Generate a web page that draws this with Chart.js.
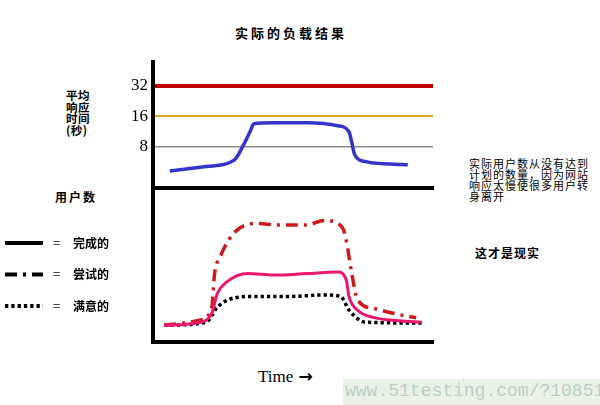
<!DOCTYPE html>
<html>
<head>
<meta charset="utf-8">
<script src="https://cdn.jsdelivr.net/npm/chart.js@4/dist/chart.umd.min.js"></script>
<style>
  body { margin: 0; width: 600px; height: 405px; position: relative; overflow: hidden; background: #fff;
         font-family: "Noto Sans CJK SC", sans-serif; color: #000; }
  .txt { position: absolute; white-space: nowrap; }
  canvas { position: absolute; left: 0; }
  #title { left: 235px; top: 26px; font-size: 13px; font-weight: bold; letter-spacing: 3px; line-height: 14px; }
  #ytitle { left: 66px; top: 90px; font-size: 11.5px; font-weight: bold; letter-spacing: 0.5px; line-height: 11.5px; }
  #users { left: 55px; top: 190px; font-size: 12px; font-weight: bold; letter-spacing: 2px; line-height: 14px; }
  #note { left: 469px; top: 158px; font-size: 11px; letter-spacing: 1px; line-height: 11px; }
  #real { left: 475px; top: 246px; font-size: 12px; font-weight: bold; letter-spacing: 1px; line-height: 14px; }
  #time { left: 258px; top: 366px; font-family: "Liberation Serif", serif; font-size: 17px; line-height: 20px; }
  #time span { font-family: "DejaVu Sans", sans-serif; font-weight: bold; font-size: 17px; margin-left: 1px; }
  #mark { left: 343px; top: 379px; width: 257px; height: 26px; background: #eaf2e8; color: #b9d0c2;
          font-family: "Liberation Mono", monospace; font-size: 18px; line-height: 24px; padding-left: 2px; }
</style>
</head>
<body>
<div class="txt" id="title">实际的负载结果</div>
<div class="txt" id="ytitle">平均<br>响应<br>时间<br>(秒)</div>
<div class="txt" id="users">用户数</div>
<div class="txt" id="note">实际用户数从没有达到<br>计划的数量，因为网站<br>响应太慢使很多用户转<br>身离开</div>
<div class="txt" id="real">这才是现实</div>
<div class="txt" id="time">Time <span>→</span></div>
<div class="txt" id="mark">www.51testing.com/?10851</div>

<canvas id="rt" width="600" height="190" style="top:0"></canvas>
<canvas id="users-chart" width="600" height="215" style="top:190px"></canvas>

<script>
// 平均响应时间（秒）
const rtTime = [6, 19, 29, 32, 35, 36, 43, 55, 66, 70, 71, 72, 76, 85, 91];
const rtSec = [4.6, 5.1, 5.9, 8, 11.8, 13.5, 13.8, 13.8, 12.9, 11.2, 8.8, 6.7, 5.7, 5.4, 5.3];
const rtTicks = [8, 16, 32];
const rtTickColors = { 8: '#8c8c8c', 16: '#d9a520', 32: '#c00000' };
const rtTickWidths = { 8: 1.5, 16: 2, 32: 4 };

// 用户数
const legendLabels = ['完成的', '尝试的', '满意的'];
const doneTime = [4, 17, 21, 23, 26, 34, 43, 55, 66, 69, 70, 73, 79, 88, 96];
const doneUsers = [11, 13, 19, 32, 39, 45, 44, 45, 46, 41, 30, 21, 16, 14, 13];
const tryTime = [4, 17, 21, 22, 24, 27, 31, 37, 45, 55, 61, 66, 68, 69, 71, 73, 79, 88, 94];
const tryUsers = [11, 14.5, 23, 45, 56, 67, 75, 78, 77, 77, 80, 78, 74, 67, 45, 28, 22, 18, 16];
const happyTime = [4, 19, 23, 29, 37, 49, 61, 67, 70, 76, 96];
const happyUsers = [11, 13, 23, 29, 30, 30, 31, 30, 21, 13, 12.5];

const pts = (xs, ys) => xs.map((x, i) => ({ x: x, y: ys[i] }));

const axisX = {
    type: 'linear', min: 0, max: 100,
    ticks: { display: false },
    grid: { display: false },
    border: { color: '#000', width: 4 },
    afterFit: s => { s.height = 0; }
};

new Chart(document.getElementById('rt'), {
    type: 'line',
    data: {
        datasets: [{
            data: pts(rtTime, rtSec),
            borderColor: '#3434c6',
            borderWidth: 3.5,
            pointRadius: 0,
            cubicInterpolationMode: 'monotone'
        }]
    },
    options: {
        responsive: false,
        animation: false,
        layout: { padding: { left: 123, right: 167, top: 62, bottom: 2 } },
        plugins: { legend: { display: false }, tooltip: { enabled: false } },
        scales: {
            x: axisX,
            y: {
                type: 'logarithmic',
                min: 3.13,
                max: 54.8,
                bounds: 'data',
                afterBuildTicks: s => { s.ticks = rtTicks.map(v => ({ value: v })); },
                afterFit: s => { s.width = 30; s.paddingTop = 0; s.paddingBottom = 0; },
                ticks: {
                    color: '#000',
                    padding: 5,
                    font: { family: '"Liberation Serif", serif', size: 17 },
                    callback: v => String(v)
                },
                grid: {
                    drawTicks: false,
                    color: c => rtTickColors[c.tick && c.tick.value] || 'rgba(0,0,0,0)',
                    lineWidth: c => rtTickWidths[c.tick && c.tick.value] || 0
                },
                border: { color: '#000', width: 4 }
            }
        }
    }
});

// left side legend drawn from the datasets
const sideLegend = {
    id: 'sideLegend',
    afterDraw(chart) {
        const ctx = chart.ctx;
        chart.data.datasets.forEach((ds, i) => {
            const y = 53 + i * 31.5;
            ctx.save();
            ctx.strokeStyle = '#000';
            ctx.lineWidth = 4;
            ctx.setLineDash(ds.borderDash || []);
            ctx.beginPath();
            ctx.moveTo(5, y);
            ctx.lineTo(43, y);
            ctx.stroke();
            ctx.setLineDash([]);
            ctx.fillStyle = '#000';
            ctx.textBaseline = 'middle';
            ctx.font = '13px "Noto Sans CJK SC"';
            ctx.fillText('=', 53, y);
            ctx.font = 'bold 12px "Noto Sans CJK SC"';
            ctx.fillText(ds.label, 73, y);
            ctx.restore();
        });
    }
};

new Chart(document.getElementById('users-chart'), {
    type: 'line',
    data: {
        datasets: [{
            label: legendLabels[0],
            data: pts(doneTime, doneUsers),
            borderColor: '#e8196e',
            borderWidth: 3
        }, {
            label: legendLabels[1],
            data: pts(tryTime, tryUsers),
            borderColor: '#cc1a1a',
            borderWidth: 3.5,
            borderDash: [12, 6, 3, 6]
        }, {
            label: legendLabels[2],
            data: pts(happyTime, happyUsers),
            borderColor: '#000',
            borderWidth: 3.5,
            borderDash: [3.3, 3]
        }]
    },
    options: {
        responsive: false,
        animation: false,
        layout: { padding: { left: 123, right: 167, top: 0, bottom: 63 } },
        elements: { point: { radius: 0 }, line: { cubicInterpolationMode: 'monotone' } },
        plugins: { legend: { display: false }, tooltip: { enabled: false } },
        scales: {
            x: axisX,
            y: {
                type: 'linear', min: 0, max: 100,
                ticks: { display: false },
                grid: { display: false },
                border: { color: '#000', width: 4 },
                afterFit: s => { s.width = 30; }
            }
        }
    },
    plugins: [sideLegend]
});
</script>
</body>
</html>
